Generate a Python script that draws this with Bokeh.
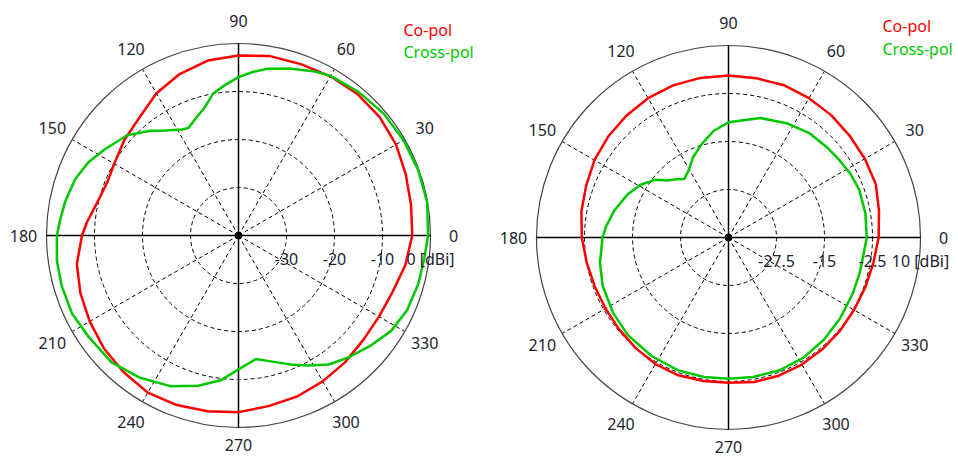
import numpy as np
from bokeh.plotting import figure
from bokeh.layouts import row
from bokeh.models import Range1d
from bokeh.core.properties import value
from bokeh.embed import file_html
from bokeh.resources import INLINE

# ---------------- data ----------------
angle_labels = [0, 30, 60, 90, 120, 150, 180, 210, 240, 270, 300, 330]

left_ticks = [-30, -20, -10, 0]
left_tick_labels = ["-30", "-20", "-10", "0 [dBi]"]
left_min, left_max = -40.0, 0.0

right_ticks = [-27.5, -15, -2.5, 10]
right_tick_labels = ["-27.5", "-15", "-2.5", "10 [dBi]"]
right_min, right_max = -40.0, 10.0

series_names = ["Co-pol", "Cross-pol"]

left_co_deg = [0, 10, 20, 30, 40, 50, 60, 70, 80, 90, 100, 110, 120, 130, 140, 150, 157,
               165, 170, 175, 180, 190, 200, 210, 220, 230, 240, 250, 260, 270, 280, 290,
               300, 310, 320, 330, 340, 350]
left_co_db = [-3.8, -3.5, -2.9, -2.1, -1.6, -1.5, -1.7, -2.0, -2.05, -2.5, -3.0, -4.2, -5.8,
              -7.9, -9.0, -10.1, -10.5, -10.0, -9.3, -8.3, -7.4, -5.8, -4.95, -4.2, -3.4,
              -2.8, -2.2, -2.4, -2.8, -3.2, -3.9, -4.3, -4.9, -5.5, -6.1, -6.2, -5.8, -4.7]

left_x_deg = [0, 10, 20, 30, 40, 50, 60, 65, 73, 80, 85, 90, 95, 100, 105, 110, 115, 118,
              125, 130, 138, 147, 154, 161, 169, 175, 180, 188, 196, 205, 214, 225, 235,
              246, 255, 263, 270, 278, 285, 292, 298, 305, 312, 320, 328, 336, 345, 353]
left_x_db = [-0.5, -0.1, -0.15, -0.3, -0.5, -1.0, -1.6, -2.3, -3.6, -4.7, -5.8, -7.0, -8.5,
             -9.9, -12.5, -14.0, -15.3, -15.0, -13.3, -11.5, -8.8, -6.9, -5.2, -4.0, -3.2,
             -2.7, -2.15, -1.8, -1.7, -1.7, -2.3, -2.6, -3.9, -5.6, -7.6, -9.6, -12.1,
             -14.0, -12.8, -11.0, -9.3, -7.2, -5.8, -4.2, -2.5, -1.6, -1.2, -1.0]

right_co_deg = [0, 10, 20, 30, 40, 50, 60, 70, 80, 90, 100, 110, 120, 130, 140, 150, 160,
                170, 180, 190, 200, 210, 220, 230, 240, 250, 260, 270, 280, 290, 300, 310,
                320, 330, 340, 350]
right_co_db = [-0.9, -0.2, 0.8, 1.0, 1.2, 1.6, 1.9, 2.2, 2.1, 2.2, 2.2, 2.15, 1.9, 1.4, 0.9,
               0.3, -0.55, -1.1, -1.8, -2.5, -2.9, -3.0, -2.8, -2.4, -1.95, -1.8, -2.05,
               -2.2, -1.8, -1.7, -1.8, -2.0, -2.15, -2.25, -2.1, -1.7]

right_x_deg = [0, 10, 20, 28, 35, 42, 52, 63, 75, 90, 98, 106, 114, 120, 127, 132, 137, 142,
               149, 157, 167, 175, 180, 191, 201, 213, 224, 237, 249, 260, 270, 280, 291,
               302, 313, 324, 336, 345, 354]
right_x_db = [-4.0, -3.8, -3.75, -4.2, -4.8, -5.2, -5.6, -6.6, -7.8, -10.0, -12.0, -14.7,
              -17.2, -19.5, -20.9, -19.6, -18.2, -15.6, -13.3, -11.4, -9.4, -7.95, -7.2,
              -5.9, -4.9, -4.1, -3.5, -3.2, -3.0, -3.1, -3.2, -3.1, -2.95, -3.1, -3.6, -4.1,
              -4.5, -4.6, -4.5]

# ---------------- style ----------------
FONT = value("Noto Sans")
TXT = "#1e1e30"
RED = "#ff0000"
GREEN = "#00c800"
R_PX = 192.0
H = 460


def to_xy(deg, db, vmin, vmax):
    th = np.deg2rad(np.asarray(deg, dtype=float))
    r = (np.asarray(db, dtype=float) - vmin) / (vmax - vmin)
    x = r * np.cos(th)
    y = r * np.sin(th)
    return np.append(x, x[0]), np.append(y, y[0])


def polar(width, cx, cy, vmin, vmax, ticks, tick_labels, curves, leg_x, leg_y):
    p = figure(width=width, height=H,
               x_range=Range1d(-cx / R_PX, (width - cx) / R_PX),
               y_range=Range1d(-(H - cy) / R_PX, cy / R_PX),
               output_backend="svg", toolbar_location=None, min_border=0,
               background_fill_color="white", border_fill_color="white")
    p.axis.visible = False
    p.grid.visible = False
    p.outline_line_color = None

    ring_r = [(t - vmin) / (vmax - vmin) for t in ticks]
    # dashed rings
    p.circle(x=[0] * (len(ring_r) - 1), y=[0] * (len(ring_r) - 1), radius=ring_r[:-1],
             fill_color=None, line_color="black", line_dash="4 3", line_width=1)
    # dashed spokes
    sp = [a for a in angle_labels if a % 90 != 0]
    th = np.deg2rad(sp)
    p.segment(x0=[0] * len(sp), y0=[0] * len(sp), x1=np.cos(th), y1=np.sin(th),
              line_color="black", line_dash="4 3", line_width=1)
    # outer circle
    p.circle(x=[0], y=[0], radius=[ring_r[-1]], fill_color=None,
             line_color="#444444", line_width=1.2)
    # solid axes
    p.segment(x0=[-1, 0], y0=[0, -1], x1=[1, 0], y1=[0, 1],
              line_color="black", line_width=1.5)

    # curves
    for (deg, db), col in zip(curves, [RED, GREEN]):
        x, y = to_xy(deg, db, vmin, vmax)
        p.line(x, y, line_color=col, line_width=2.5)

    p.scatter(x=[0], y=[0], size=7, color="black")

    # angle labels
    ta = np.deg2rad(angle_labels)
    lr = np.array([209.0 if a == 270 else 215.0 for a in angle_labels]) / R_PX
    p.text(x=lr * np.cos(ta), y=lr * np.sin(ta), text=[str(a) for a in angle_labels],
           text_font=FONT, text_font_size="16px", text_color=TXT,
           text_align="center", text_baseline="middle")
    # radial labels
    p.text(x=ring_r, y=[-23.0 / R_PX] * len(ring_r), text=tick_labels,
           text_font=FONT, text_font_size="16px", text_color=TXT,
           text_align="center", text_baseline="middle")
    # legend
    p.text(x=[leg_x, leg_x], y=[leg_y[0], leg_y[1]], text=series_names,
           text_font=FONT, text_font_size="16px", text_color=[RED, GREEN],
           text_align="left", text_baseline="middle")
    return p


p1 = polar(479, 238, 235, left_min, left_max, left_ticks, left_tick_labels,
           [(left_co_deg, left_co_db), (left_x_deg, left_x_db)],
           (403 - 238) / R_PX, ((235 - 29) / R_PX, (235 - 51.5) / R_PX))
p2 = polar(479, 249, 237, right_min, right_max, right_ticks, right_tick_labels,
           [(right_co_deg, right_co_db), (right_x_deg, right_x_db)],
           (882 - 728) / R_PX, ((237 - 25.5) / R_PX, (237 - 48) / R_PX))

layout = row(p1, p2)
open("out.html", "w").write(file_html(layout, INLINE))
